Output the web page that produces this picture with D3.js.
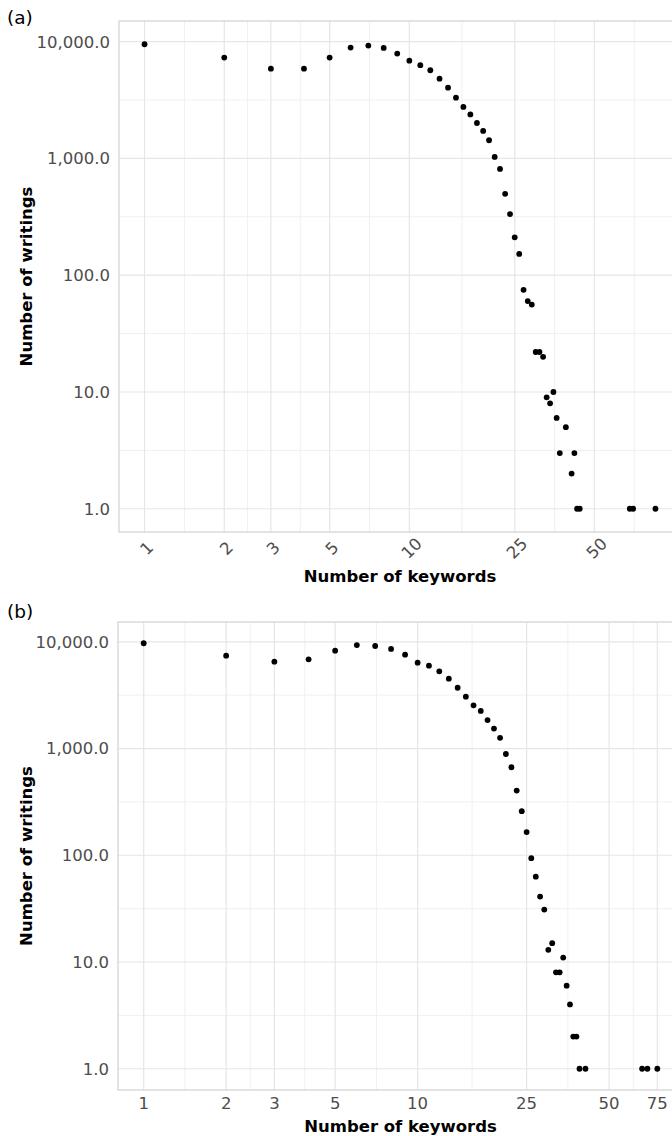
<!DOCTYPE html>
<html lang="en">
<head>
<meta charset="utf-8">
<title>Number of writings by number of keywords</title>
<script src="https://d3js.org/d3.v7.min.js"></script>
<style>
    body { margin: 0; background: #fff; }
    svg { display: block; }
    .tick-label { font-family: "DejaVu Sans", sans-serif; font-size: 16.5px; fill: #4d4d4d; }
    .axis-title { font-family: "DejaVu Sans", sans-serif; font-size: 16.5px; font-weight: bold; fill: #000; }
    .panel-tag { font-family: "DejaVu Sans", sans-serif; font-size: 18.5px; fill: #000; }
</style>
</head>
<body>
<script>
    // panel (a)
    var keywordsA = [1, 2, 3, 4, 5, 6, 7, 8, 9, 10, 11, 12, 13, 14, 15, 16, 17, 18, 19, 20,
        21, 22, 23, 24, 25, 26, 27, 28, 29, 30, 31, 32, 33, 34, 35, 36, 37, 39, 41, 42,
        43, 44, 68, 70, 85];
    var writingsA = [9500, 7300, 5870, 5870, 7300, 8890, 9250, 8830, 7900, 6870, 6280, 5690, 4820, 4030, 3310, 2760, 2380, 2010, 1720, 1430,
        1030, 813, 497, 334, 211, 152, 75, 60, 56, 22, 22, 20, 9, 8, 10, 6, 3, 5, 2, 3,
        1, 1, 1, 1, 1];

    // panel (b)
    var keywordsB = [1, 2, 3, 4, 5, 6, 7, 8, 9, 10, 11, 12, 13, 14, 15, 16, 17, 18, 19, 20,
        21, 22, 23, 24, 25, 26, 27, 28, 29, 30, 31, 32, 33, 34, 35, 36, 37, 38, 39, 41,
        66, 69, 75];
    var writingsB = [9690, 7410, 6510, 6860, 8260, 9330, 9140, 8570, 7570, 6370, 5970, 5290, 4510, 3710, 3060, 2540, 2250, 1850, 1540, 1260,
        889, 668, 404, 259, 165, 94, 63, 41, 31, 13, 15, 8, 8, 11, 6, 4, 2, 2, 1, 1,
        1, 1, 1];

    var xTicksA = [1, 2, 3, 5, 10, 25, 50];
    var xTicksB = [1, 2, 3, 5, 10, 25, 50, 75];
    var yTicks = [1, 10, 100, 1000, 10000];

    var svg = d3.select("body").append("svg")
        .attr("width", 672)
        .attr("height", 1136);

    var fmt = d3.format(",.1f");

    // ggplot style 5% expansion in log space
    function expandLog(vals) {
        var lo = Math.log10(d3.min(vals)), hi = Math.log10(d3.max(vals));
        var pad = (hi - lo) * 0.05;
        return [Math.pow(10, lo - pad), Math.pow(10, hi + pad)];
    }

    // minor breaks half way between majors (log space), like ggplot
    function minorBreaks(majors, domain) {
        var b = majors.map(Math.log10);
        var lo = Math.log10(domain[0]), hi = Math.log10(domain[1]);
        if (b[0] > lo) b.unshift(b[0] - (b[1] - b[0]));
        var n = b.length;
        if (b[n - 1] < hi) b.push(b[n - 1] + (b[n - 1] - b[n - 2]));
        var out = [];
        for (var i = 0; i < b.length - 1; i++) {
            var m = (b[i] + b[i + 1]) / 2;
            if (m > lo && m < hi) out.push(Math.pow(10, m));
        }
        return out;
    }

    function drawPanel(p) {
        var x = d3.scaleLog().domain(expandLog(p.keywords)).range([p.left, p.right]);
        var y = d3.scaleLog().domain(expandLog(p.writings)).range([p.bottom, p.top]);

        var g = svg.append("g");

        var clipId = "clip-" + p.tag;
        g.append("clipPath").attr("id", clipId)
            .append("rect")
            .attr("x", p.left).attr("y", p.top)
            .attr("width", p.right - p.left).attr("height", p.bottom - p.top);

        var grid = g.append("g").attr("clip-path", "url(#" + clipId + ")");

        // minor grid
        grid.selectAll(".xminor")
            .data(minorBreaks(p.xTicks, x.domain()))
            .enter().append("line")
            .attr("x1", d => x(d)).attr("x2", d => x(d))
            .attr("y1", p.top).attr("y2", p.bottom)
            .attr("stroke", "#f0f0f0").attr("stroke-width", 1);
        grid.selectAll(".yminor")
            .data(minorBreaks(yTicks, y.domain()))
            .enter().append("line")
            .attr("x1", p.left).attr("x2", p.right)
            .attr("y1", d => y(d)).attr("y2", d => y(d))
            .attr("stroke", "#f0f0f0").attr("stroke-width", 1);

        // major grid
        grid.selectAll(".xmajor")
            .data(p.xTicks)
            .enter().append("line")
            .attr("x1", d => x(d)).attr("x2", d => x(d))
            .attr("y1", p.top).attr("y2", p.bottom)
            .attr("stroke", "#e6e6e6").attr("stroke-width", 1.2);
        grid.selectAll(".ymajor")
            .data(yTicks)
            .enter().append("line")
            .attr("x1", p.left).attr("x2", p.right)
            .attr("y1", d => y(d)).attr("y2", d => y(d))
            .attr("stroke", "#e6e6e6").attr("stroke-width", 1.2);

        // panel border
        g.append("rect")
            .attr("x", p.left).attr("y", p.top)
            .attr("width", p.right - p.left).attr("height", p.bottom - p.top)
            .attr("fill", "none")
            .attr("stroke", "#d4d4d4")
            .attr("stroke-width", 1.3);

        // points
        g.selectAll("circle")
            .data(p.keywords.map((k, i) => ({ k: k, n: p.writings[i] })))
            .enter().append("circle")
            .attr("cx", d => x(d.k))
            .attr("cy", d => y(d.n))
            .attr("r", 2.9)
            .attr("fill", "#000");

        // y tick labels
        g.selectAll(".ylab")
            .data(yTicks)
            .enter().append("text")
            .attr("class", "tick-label")
            .attr("x", p.left - 9)
            .attr("y", d => y(d))
            .attr("dy", "0.36em")
            .attr("text-anchor", "end")
            .text(fmt);

        // x tick labels
        if (p.rotate) {
            g.selectAll(".xlab")
                .data(p.xTicks)
                .enter().append("text")
                .attr("class", "tick-label")
                .attr("text-anchor", "middle")
                .attr("dy", "0.36em")
                .attr("transform", d => "translate(" + (x(d) + 2) + "," + (p.bottom + 16) + ") rotate(-45)")
                .text(d => d);
        } else {
            g.selectAll(".xlab")
                .data(p.xTicks)
                .enter().append("text")
                .attr("class", "tick-label")
                .attr("text-anchor", "middle")
                .attr("x", d => x(d))
                .attr("y", p.bottom + 19)
                .text(d => d);
        }

        // axis titles
        g.append("text")
            .attr("class", "axis-title")
            .attr("text-anchor", "middle")
            .attr("x", (p.left + p.right) / 2)
            .attr("y", p.xTitleY)
            .text("Number of keywords");

        g.append("text")
            .attr("class", "axis-title")
            .attr("text-anchor", "middle")
            .attr("transform", "translate(31.5," + (p.top + p.bottom) / 2 + ") rotate(-90)")
            .text("Number of writings");

        g.append("text")
            .attr("class", "panel-tag")
            .attr("x", 7)
            .attr("y", p.tagY)
            .text("(" + p.tag + ")");
    }

    drawPanel({
        tag: "a", keywords: keywordsA, writings: writingsA, xTicks: xTicksA,
        left: 119, right: 681, top: 21, bottom: 532,
        rotate: true, xTitleY: 582, tagY: 24
    });

    drawPanel({
        tag: "b", keywords: keywordsB, writings: writingsB, xTicks: xTicksB,
        left: 118, right: 683, top: 622, bottom: 1090,
        rotate: false, xTitleY: 1132, tagY: 618
    });
</script>
</body>
</html>
